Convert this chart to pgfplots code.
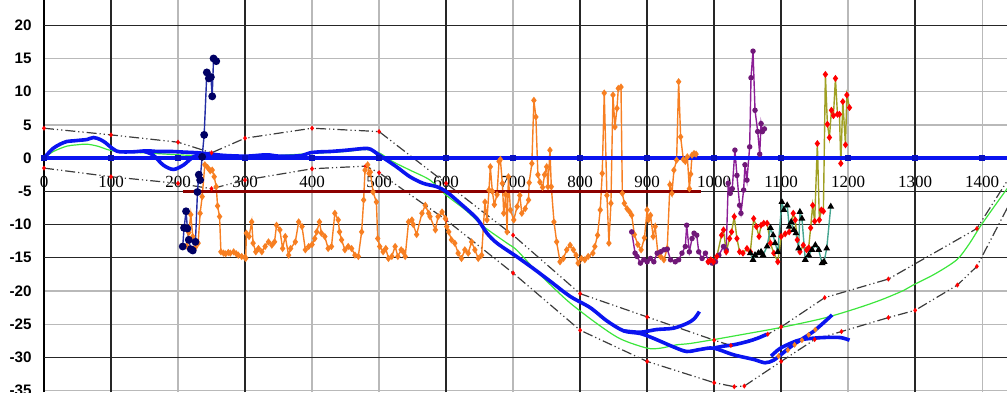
\documentclass[border=0pt]{standalone}
\usepackage{fontspec}
\setmainfont{Liberation Serif}
\newfontfamily\lsans{Liberation Sans}
\usepackage{pgfplots}
\usepackage{pgfplotstable}
\pgfplotsset{compat=1.18}
\definecolor{cblue}{RGB}{10,20,240}
\definecolor{cdred}{RGB}{140,0,0}
\definecolor{cgreen}{RGB}{60,230,60}
\definecolor{corange}{RGB}{247,127,34}
\definecolor{cnavyl}{RGB}{35,45,165}
\definecolor{cnavy}{RGB}{0,0,100}
\definecolor{cpurple}{RGB}{140,30,150}
\definecolor{colive}{RGB}{160,160,35}
\definecolor{cteal}{RGB}{70,165,145}
\definecolor{cenv}{RGB}{60,60,60}
\tikzset{envline/.style={cenv, line width=0.6pt, dash pattern=on 5pt off 1.5pt on 0.6pt off 1.5pt on 0.6pt off 1.5pt}}

\pgfplotstableread{
x y
213 -13.2
216 -11.2
219 -8.5
222 -11.8
226 -13.4
230 -12.8
233 -8.3
236 -5.8
240 -1.0
244 -1.4
248 -1.9
251 -1.8
254 -2.8
257 -4.3
259 -7.2
262 -8.8
264 -14.1
268 -14.3
271 -14.4
275 -14.2
278 -14.3
283 -14.1
287 -14.4
290 -14.6
295 -14.8
300 -14.9
301 -15.1
302 -11.3
306 -11.8
310 -9.6
312 -12.8
316 -14.1
320 -13.6
325 -14.1
330 -13.3
335 -12.6
340 -13.1
344 -12.6
347 -10.1
352 -10.8
356 -13.6
360 -11.8
365 -14.6
368 -13.6
375 -12.6
380 -9.6
385 -10.3
390 -13.8
395 -13.3
400 -13.0
404 -12.1
407 -11.1
411 -9.6
414 -11.3
419 -11.8
424 -13.6
429 -13.3
434 -8.3
439 -9.3
441 -11.1
444 -12.3
449 -13.8
454 -13.3
459 -13.6
464 -14.6
469 -14.8
474 -11.1
477 -6.3
479 -1.8
483 -1.0
485 -2.3
487 -2.1
491 -5.1
496 -6.6
498 -12.1
501 -13.3
506 -14.1
510 -13.6
514 -15.1
519 -14.8
524 -13.3
528 -14.8
533 -13.8
536 -14.1
539 -14.8
544 -9.6
549 -9.3
551 -10.0
556 -11.5
564 -8.3
569 -7.1
574 -8.3
576 -8.8
584 -10.8
588 -8.8
594 -8.1
599 -9.1
601 -10.3
604 -11.1
608 -12.3
613 -12.8
618 -14.3
623 -15.1
628 -13.8
633 -14.3
638 -12.6
643 -13.8
648 -15.1
653 -14.6
658 -6.6
661 -9.3
664 -4.8
666 -1.3
669 -5.0
672 -7.0
676 -5.5
679 -0.5
681 -0.2
684 -3.8
686 -8.3
689 -5.5
691 -11.1
693 -2.8
696 -7.8
701 -9.3
706 -7.3
710 -5.6
713 -8.3
718 -7.6
723 -6.3
724 -3.7
728 -0.8
731 8.7
734 6.2
737 -2.5
740 -3.6
744 -4.4
747 -2.5
750 -1.3
752 -4.3
755 1.2
757 -4.3
761 -9.6
765 -12.6
770 -15.6
775 -15.1
780 -13.8
785 -13.1
790 -13.8
794 -14.6
797 -15.8
802 -15.1
807 -15.3
812 -14.8
819 -14.3
822 -13.3
826 -11.6
830 -7.8
833 -2.3
836 9.8
840 -5.6
843 -12.8
846 -6.8
849 9.5
852 4.7
855 7.5
857 10.5
861 10.7
863 -5.3
866 -6.8
870 -7.6
874 -8.1
877 -8.6
881 -11.5
886 -13.0
891 -13.8
896 -12.0
900 -7.8
902 -9.3
905 -8.6
909 -11.8
912 -10.3
916 -14.3
920 -14.8
925 -15.3
930 -13.6
934 -4.0
937 -5.3
940 -1.8
944 -0.3
947 11.5
950 3.2
954 -0.2
957 -0.5
960 0.2
963 -4.6
965 -2.4
967 0.45
970 0.7
973 0.6
}\orangedata

\begin{document}
\begin{tikzpicture}
\begin{axis}[
  width=481.5pt, height=196pt, scale only axis,
  xmin=0, xmax=1437, ymin=-35.2, ymax=23.8,
  axis x line=middle, axis y line=left,
  axis line style={-, black, line width=0.7pt},
  hide obscured x ticks=false, hide obscured y ticks=false,
  major tick length=0pt,
  xtick={0,100,...,1400},
  xticklabels={0,100,200,300,400,500,600,700,800,900,1000,1100,1200,1300,1400},
  xticklabel style={font=\fontsize{8.5}{9}\selectfont, inner sep=0pt, anchor=north, yshift=-9pt},
  ytick={-35,-30,...,20},
  yticklabels={-35,-30,-25,-20,-15,-10,-5,0,5,10,15,20},
  yticklabel style={font=\lsans\bfseries\fontsize{7.6}{9}\selectfont, inner sep=0pt, anchor=east, xshift=-6pt},
  grid=major,
  grid style={gray!55, line width=0.7pt},
  extra x ticks={100,300,600,800,900,1000,1100,1300},
  extra x tick labels={},
  extra x tick style={grid style={black!85, line width=0.7pt}},
  extra y ticks={20,-5,-10,-15,-30},
  extra y tick labels={},
  extra y tick style={grid style={black!85, line width=0.7pt}},
  clip=true,
]
\coordinate (SW) at (rel axis cs:0,0);
\coordinate (NE) at (rel axis cs:1,1);

% envelopes
\addplot[envline, mark=diamond*, mark size=0.8pt, mark options={red, solid, draw=red}] coordinates {
(0,4.5) (100,3.5) (200,2.4) (250,0.8) (300,3.0) (400,4.5) (500,4.0) (600,-3.8) (700,-11.6)
(800,-20.4) (900,-23.9) (1000,-27.4) (1025,-28.2) (1080,-26.5) (1100,-25.4) (1165,-21.0)
(1260,-18.2) (1392,-10.6) (1440,-3.0)};
\addplot[envline, mark=diamond*, mark size=0.8pt, mark options={red, solid, draw=red}] coordinates {
(0,-1.5) (100,-2.8) (200,-3.8) (250,-4.6) (300,-3.3) (400,-1.6) (480,-1.2) (500,-2.2)
(600,-9.3) (700,-17.3) (800,-25.9) (900,-30.6) (1000,-33.8) (1030,-34.4) (1045,-34.3)
(1100,-30.6) (1150,-27.3) (1190,-26.1) (1260,-24.0) (1300,-22.9) (1363,-19.1) (1392,-16.3) (1440,-7.0)};

% green model
\addplot[cgreen, line width=0.6pt, smooth] coordinates {
(0,0) (14,1.0) (34,1.8) (49,2.0) (64,2.1) (80,1.8) (98,1.2) (120,0.9) (150,0.8) (200,0.5)
(250,0.3) (300,0.2) (350,0.4) (400,0.7) (450,1.0) (480,1.3) (500,0.8) (520,-0.5) (546,-1.8)
(576,-3.3) (598,-5.4) (630,-7.9) (656,-10.3) (691,-12.8) (705,-13.8) (730,-16.5) (755,-19.0)
(785,-21.8) (825,-24.9) (860,-27.2) (900,-28.6) (920,-28.6) (944,-28.1) (964,-27.9) (1000,-27.3)
(1039,-26.6) (1099,-25.5) (1163,-24.1) (1213,-22.6) (1250,-21.3) (1283,-19.9) (1297,-19.1)
(1330,-17.4) (1362,-15.3) (1380,-13.0) (1397,-10.3) (1420,-7.0) (1440,-4.2)};

% orange
\addplot[corange, line width=0.7pt, mark=diamond*, mark size=1.25pt, mark options={fill=corange, draw=corange}] table[x=x,y=y] {\orangedata};

% purple
\addplot[cpurple, line width=0.7pt, mark=*, mark size=1pt, mark options={fill=cpurple!80!black, draw=cpurple!80!black}] coordinates {
(877,-11.1) (882,-14.3) (885,-14.8) (890,-15.8) (895,-15.3) (900,-15.6) (905,-15.1) (910,-15.6)
(915,-14.3) (920,-14.1) (925,-13.8) (930,-13.7) (935,-15.3) (942,-15.6) (947,-15.3) (952,-14.3)
(957,-13.3) (959,-10.1) (963,-14.1) (967,-12.1) (970,-11.3) (974,-11.6) (977,-14.1) (982,-15.1)
(987,-14.3) (992,-15.6) (997,-15.8) (1002,-15.6) (1007,-14.6) (1014,-13.3) (1018,-13.8) (1021,-3.8)
(1024,-5.3) (1027,-4.6) (1031,1.2) (1034,-2.6) (1038,-7.1) (1040,-8.3) (1044,-4.8) (1046,-1.0)
(1049,-3.3) (1053,1.7) (1055,12.1) (1058,16.1) (1061,7.2) (1065,4.0) (1068,0.6) (1070,5.2)
(1072,4.0) (1075,4.4)};

% olive with red marks
\addplot[colive, line width=0.7pt, mark=diamond*, mark size=1.2pt, mark options={fill=red, draw=red}] coordinates {
(991,-15.6) (995,-15.3) (999,-15.6) (1004,-14.8) (1011,-11.6) (1014,-10.8) (1018,-14.1) (1023,-12.1)
(1026,-11.1) (1030,-8.8) (1034,-12.1) (1038,-14.1) (1043,-14.3) (1049,-13.6) (1054,-14.1) (1059,-9.1)
(1063,-10.3) (1067,-11.8) (1070,-10.1) (1074,-9.8) (1079,-9.8) (1084,-12.8) (1089,-14.3) (1095,-15.6)
(1100,-11.8) (1106,-11.4) (1112,-11.1) (1118,-8.3) (1121,-9.3) (1124,-12.3) (1128,-14.1) (1133,-13.1)
(1138,-13.8) (1141,-13.5) (1144,-10.5) (1147,-7.1) (1150,-9.5) (1154,2.2) (1157,-9.3) (1160,-7.8)
(1163,-8.0) (1166,12.6) (1169,5.1) (1172,3.1) (1175,7.2) (1178,6.4) (1181,12.0) (1184,6.6)
(1187,6.6) (1189,-0.8) (1192,8.5) (1196,2.0) (1198,9.5) (1202,7.6)};

% teal with black triangles
\addplot[cteal, line width=0.7pt, mark=triangle*, mark size=1.3pt, mark options={fill=black, draw=black}] coordinates {
(1054,-14.3) (1058,-15.3) (1061,-14.6) (1066,-14.3) (1070,-14.1) (1073,-14.6) (1079,-13.3) (1084,-10.5)
(1088,-11.6) (1091,-12.8) (1095,-14.1) (1101,-6.6) (1104,-7.8) (1109,-7.1) (1112,-10.3) (1115,-9.6)
(1119,-10.8) (1122,-11.3) (1126,-13.6) (1128,-8.1) (1131,-9.1) (1136,-15.3) (1141,-14.6) (1146,-13.8)
(1151,-13.1) (1156,-13.8) (1161,-15.8) (1164,-15.6) (1168,-13.6) (1174,-7.3)};

% navy with circles
\addplot[cnavyl, line width=0.7pt, mark=*, mark size=1.6pt, mark options={fill=cnavy, draw=cnavy}] coordinates {
(207,-13.3) (209,-10.5) (212,-8.0) (214,-10.6) (216,-12.3) (219,-13.7) (222,-13.9) (226,-12.6)
(229,-5.1) (231,-2.5) (233,-3.3) (236,0.2) (239,3.5) (243,12.9) (246,12.0) (249,12.2) (251,9.3)
(253,15.0) (257,14.6)};

% dark red level line
\addplot[cdred, line width=1.4pt] coordinates {(207,-5) (980,-5)};

% thin dark red with orange marks
\addplot[cdred!80!red, line width=0.6pt, mark=diamond*, mark size=1pt, mark options={fill=corange, draw=corange}] coordinates {
(1096,-29.8) (1110,-28.9) (1120,-28.1) (1131,-27.4) (1141,-26.6) (1151,-25.8)};

% blue measured lines
\addplot[cblue, line width=1.8pt, smooth] coordinates {
(0,0) (7,0.8) (14,1.5) (24,2.1) (34,2.5) (44,2.6) (54,2.7) (64,2.8) (74,3.1) (84,2.8) (92,2.3)
(99,1.7) (106,1.2) (113,0.95) (133,0.95) (153,1.1) (170,1.0) (190,1.0) (210,0.9) (230,0.8)
(250,0.6) (270,0.4) (302,0.3) (332,0.5) (350,0.3) (370,0.3) (385,0.4) (397,0.8) (412,0.95)
(427,1.0) (452,1.2) (477,1.45) (487,1.35) (501,0.4) (526,-1.3) (546,-2.8) (566,-3.8) (586,-4.3)
(601,-5.1) (621,-6.8) (646,-9.1) (661,-11.3) (676,-12.8) (705,-14.8) (730,-16.6) (755,-18.5)
(785,-20.8) (815,-22.5) (840,-24.5) (865,-26.0) (890,-26.4) (909,-27.1) (939,-28.4) (959,-29.1)
(979,-28.8) (999,-28.6) (1029,-29.6) (1059,-30.3) (1076,-30.8) (1089,-30.4) (1103,-29.3)
(1118,-28.1) (1133,-27.1) (1148,-26.1) (1163,-24.8) (1176,-23.6)};
\addplot[cblue, line width=1.8pt, smooth] coordinates {
(150,1.0) (163,0.45) (178,-1.05) (193,-1.7) (208,-1.05) (223,0.2) (238,0.6) (250,0.6)};
\addplot[cblue, line width=1.8pt, smooth] coordinates {
(865,-26.0) (890,-26.2) (914,-25.8) (939,-25.6) (959,-24.9) (970,-24.2) (978,-23.1)};
\addplot[cblue, line width=1.8pt, smooth] coordinates {
(999,-28.6) (1014,-28.3) (1029,-28.1) (1050,-27.6) (1065,-27.1) (1079,-26.5)};
\addplot[cblue, line width=1.8pt, smooth] coordinates {
(1085,-29.8) (1099,-28.6) (1123,-27.5) (1138,-27.2) (1163,-27.0) (1188,-27.0) (1202,-27.4)};

% zero line with small square marks
\addplot[cblue, line width=1.8pt, mark=square*, mark size=0.55pt, mark options={fill=cblue!80!black, draw=cblue!80!black}] coordinates {
(0,0) (100,0) (200,0) (300,0) (400,0) (500,0) (600,0) (700,0) (800,0) (900,0) (1000,0)
(1100,0) (1200,0) (1300,0) (1400,0) (1500,0)};
\end{axis}
\pgfresetboundingbox
\path ([xshift=-22pt]SW) rectangle (NE);
\end{tikzpicture}
\end{document}
